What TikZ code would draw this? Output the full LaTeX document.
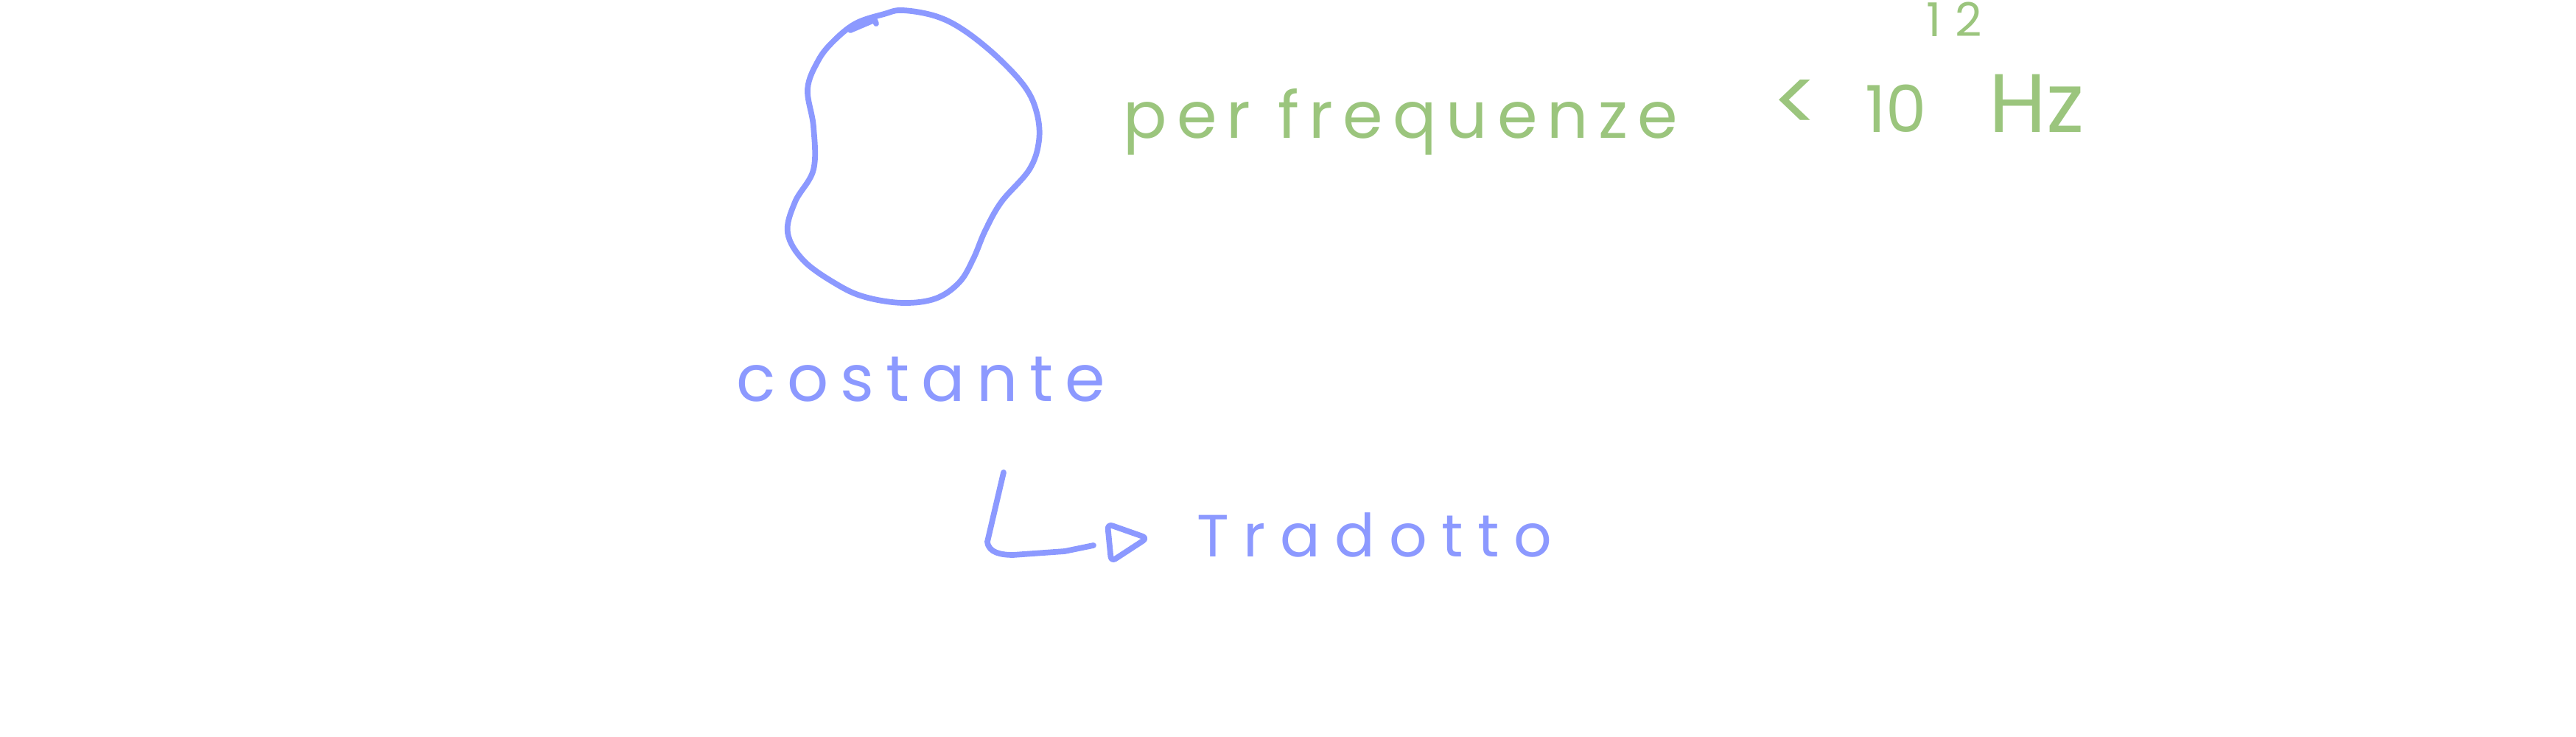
\documentclass[tikz,border=0pt]{standalone}
\usepackage{fontspec}
\setmainfont{Poppins}
\usetikzlibrary{positioning}
\definecolor{SketchBlue}{HTML}{8C99FF}
\definecolor{SketchGreen}{HTML}{9BC57D}
\tikzset{
  bluelbl/.style={text=SketchBlue,inner sep=0pt,anchor=base west,
    font=\fontsize{25}{30}\selectfont\addfontfeatures{LetterSpace=18}},
  greenlbl/.style={text=SketchGreen,inner sep=0pt,anchor=base west,
    font=\fontsize{25}{30}\selectfont\addfontfeatures{LetterSpace=15}},
  penline/.style={draw=SketchBlue,line width=2.2pt,line cap=round,line join=round},
}
\begin{document}
\begin{tikzpicture}
  \useasboundingbox (0,0) rectangle (34.96,10);
  \draw[penline] plot[smooth cycle,tension=0.6] coordinates {
    (12.25,9.86) (12.70,9.78) (13.08,9.59) (13.53,9.23) (13.91,8.82)
    (14.07,8.47) (14.10,8.09) (13.97,7.70) (13.59,7.26) (13.37,6.87)
    (13.21,6.49) (13.02,6.17) (12.70,5.95) (12.25,5.89) (11.74,5.97)
    (11.36,6.14) (10.91,6.46) (10.69,6.84) (10.79,7.26) (11.04,7.70)
    (11.04,8.28) (10.96,8.79) (11.10,9.17) (11.30,9.43) (11.61,9.68)
    (12.00,9.81)};
  \draw[penline] (11.54,9.59) -- (11.87,9.73) -- (11.89,9.68);
  \node[bluelbl] (cst) at (9.99,4.55) {costante};
  \node[bluelbl,font=\fontsize{23}{28}\selectfont\addfontfeatures{LetterSpace=24}]
    (trd) at (16.24,2.44) {Tradotto};
  \node[greenlbl] (pfreq) at (15.24,8.12) {per frequenze};
  \node[greenlbl,font=\fontsize{25}{30}\selectfont] (soglia) at (24.04,8.20)
    {{\fontsize{34}{36}\selectfont<}\hspace{0.6cm}10%
     \raisebox{1.3cm}{\fontsize{18}{20}\selectfont\addfontfeatures{LetterSpace=30}12}%
     \hspace{0.1cm}{\fontsize{32}{36}\selectfont Hz}};
  \coordinate (lstart) at (13.62,3.59);
  \coordinate (lend) at (14.84,2.60);
  \draw[penline] (lstart) -- (13.40,2.65) to[out=-85,in=180] (13.75,2.47)
    -- (14.45,2.52) -- (lend);
  \draw[penline,rounded corners=2pt] (15.03,2.89) -- (15.57,2.70)
    -- (15.08,2.38) -- cycle;
\end{tikzpicture}
\end{document}
